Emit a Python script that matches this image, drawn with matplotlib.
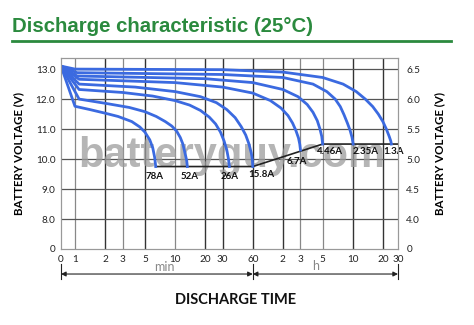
import matplotlib.pyplot as plt
from matplotlib.lines import Line2D

# discharge curves, time in minutes, voltage in V (12V side)
curve_names = ['78A', '52A', '26A', '15.8A', '6.7A', '4.46A', '2.35A', '1.3A']
t_78 = [0.725, 1.0, 1.41, 2.0, 2.7, 3.7, 4.45, 5.0, 5.6, 6.0, 6.27, 6.42]
v_78 = [13.1, 11.76, 11.65, 11.53, 11.42, 11.25, 11.07, 10.9, 10.64, 10.37, 10.05, 9.75]
t_52 = [0.725, 1.1, 2, 3.5, 5, 6.5, 8, 9.3, 10.4, 11.3, 12.0, 12.6, 13.1, 13.3]
v_52 = [13.1, 12.0, 11.86, 11.72, 11.58, 11.42, 11.25, 11.1, 10.93, 10.72, 10.5, 10.2, 9.95, 9.75]
t_26 = [0.725, 1.1, 3, 6, 10, 14, 18, 22, 25.5, 28.5, 31, 33, 34.3, 35]
v_26 = [13.1, 12.32, 12.22, 12.1, 11.95, 11.8, 11.62, 11.4, 11.17, 10.9, 10.6, 10.3, 10.0, 9.75]
t_158 = [0.725, 1.1, 4, 10, 18, 26, 33, 40, 46, 51, 55, 58, 59.5, 60]
v_158 = [13.1, 12.5, 12.4, 12.25, 12.08, 11.88, 11.65, 11.38, 11.08, 10.8, 10.5, 10.2, 9.95, 9.75]
t_67 = [0.725, 1.1, 10, 30, 60, 90, 115, 135, 150, 162, 172, 177, 180]
v_67 = [13.1, 12.66, 12.55, 12.4, 12.2, 11.95, 11.7, 11.45, 11.2, 10.95, 10.7, 10.5, 10.3]
t_446 = [0.725, 1.05, 20, 60, 120, 170, 210, 240, 265, 282, 294, 300]
v_446 = [13.1, 12.77, 12.68, 12.55, 12.32, 12.08, 11.82, 11.56, 11.28, 11.0, 10.75, 10.5]
t_235 = [0.725, 1.05, 30, 120, 240, 330, 400, 450, 490, 530, 565, 590, 605]
v_235 = [13.1, 12.88, 12.82, 12.72, 12.5, 12.25, 12.0, 11.75, 11.48, 11.2, 10.95, 10.72, 10.5]
t_13 = [0.725, 1.0, 30, 120, 300, 480, 650, 800, 950, 1080, 1200, 1300, 1390, 1440, 1460]
v_13 = [13.1, 13.0, 12.98, 12.9, 12.72, 12.5, 12.25, 12.0, 11.75, 11.5, 11.25, 11.0, 10.75, 10.6, 10.5]
curve_t = [t_78, t_52, t_26, t_158, t_67, t_446, t_235, t_13]
curve_v = [v_78, v_52, v_26, v_158, v_67, v_446, v_235, v_13]

# end voltage line
end_t = [6.42, 60, 300, 1700]
end_v = [9.75, 9.75, 10.5, 10.5]

# label positions
label_t = [6.3, 13.9, 35, 73, 167, 356, 814, 1546]
label_v = [9.43, 9.43, 9.43, 9.5, 9.93, 10.26, 10.26, 10.26]

x_ticks = [0.725, 1, 2, 3, 5, 10, 20, 30, 60, 120, 180, 300, 600, 1200, 1700]
x_labels = ['0', '1', '2', '3', '5', '10', '20', '30', '60', '2', '3', '5', '10', '20', '30']
dark_x = [2, 5, 20, 30, 60, 120, 600, 1200]
light_x = [1, 3, 10, 180, 300]
y_ticks = [7, 8, 9, 10, 11, 12, 13]
y_labels = ['0', '8.0', '9.0', '10.0', '11.0', '12.0', '13.0']
y2_labels = ['0', '4.0', '4.5', '5.0', '5.5', '6.0', '6.5']

plt.rcParams['font.family'] = ['Lato', 'DejaVu Sans']

fig = plt.figure(figsize=(4.74, 3.25), dpi=100)
ax = fig.add_axes([61 / 474, 1 - 249 / 325, 337 / 474, 191 / 325])
ax.set_xscale('log')
ax.set_xlim(0.725, 1700)
ax.set_ylim(7, 13.37)

# grid
for x in dark_x:
    ax.axvline(x, color='#333333', lw=1.0, zorder=1)
for x in light_x:
    ax.axvline(x, color='#888888', lw=0.9, zorder=1)
for y in y_ticks[1:]:
    ax.axhline(y, color='#555555', lw=0.9, zorder=1)

# watermark, behind the curves
ax.text(232 / 474, 1 - 156 / 325, 'batteryguy.com', transform=fig.transFigure, fontsize=30,
        fontweight='bold', family='Liberation Sans', color='#9c9c9c', alpha=0.75,
        ha='center', va='center', zorder=2, clip_on=False)

ax.plot(end_t, end_v, color='#222222', lw=1.2, zorder=3)
for t, v in zip(curve_t, curve_v):
    ax.plot(t, v, color='#3b6ae0', lw=2.0, zorder=4, solid_joinstyle='round')

for name, t, v in zip(curve_names, label_t, label_v):
    ax.text(t, v, name, fontsize=7, fontweight='bold', color='#111111',
            ha='center', va='center', zorder=5, clip_on=False)

ax.set_xticks(x_ticks)
ax.set_xticklabels(x_labels)
ax.minorticks_off()
ax.set_yticks(y_ticks)
ax.set_yticklabels(y_labels)
ax.tick_params(length=0, labelsize=7.2, pad=4, colors='#222222')

ax2 = ax.twinx()
ax2.set_ylim(3.5, 6.685)
ax2.set_yticks([3.5, 4.0, 4.5, 5.0, 5.5, 6.0, 6.5])
ax2.set_yticklabels(y2_labels)
ax2.tick_params(length=0, labelsize=7.2, pad=6, colors='#222222')

for a in [ax, ax2]:
    for s in a.spines.values():
        s.set_color('#999999')
        s.set_linewidth(0.8)

ax.set_ylabel('BATTERY VOLTAGE (V)', fontsize=8.3, fontweight='bold', labelpad=8)
ax2.set_ylabel('BATTERY VOLTAGE (V)', fontsize=8.3, fontweight='bold', labelpad=10)

# min / h dimension arrows under the axis
tr = ax.get_xaxis_transform()
arrow = dict(arrowstyle='<|-|>', color='#222222', lw=0.8, mutation_scale=7, shrinkA=0, shrinkB=0)
ax.annotate('', xy=(60, -0.131), xytext=(0.725, -0.131), xycoords=tr, arrowprops=arrow,
            annotation_clip=False)
ax.annotate('', xy=(1700, -0.131), xytext=(60, -0.131), xycoords=tr, arrowprops=arrow,
            annotation_clip=False)
for x in [0.725, 60, 1700]:
    ax.plot([x, x], [-0.078, -0.157], transform=tr, color='#222222', lw=0.8, clip_on=False)
ax.text(7.9, -0.095, 'min', transform=tr, fontsize=9, color='#888888', ha='center', va='center')
ax.text(258, -0.09, 'h', transform=tr, fontsize=9, color='#888888', ha='center', va='center')

fig.text(236 / 474, 1 - 300 / 325, 'DISCHARGE TIME', fontsize=10.5, fontweight='bold',
         ha='center', va='center', color='#111111')

# title
fig.text(12 / 474, 1 - 26 / 325, 'Discharge characteristic (25°C)', fontsize=14.7,
         fontweight='bold', family='Liberation Sans', color='#2b8a3e', ha='left', va='center')
fig.add_artist(Line2D([12 / 474, 451 / 474], [1 - 41 / 325, 1 - 41 / 325], color='#2b8a3e', lw=2))

fig.savefig('out.png', dpi=100)
